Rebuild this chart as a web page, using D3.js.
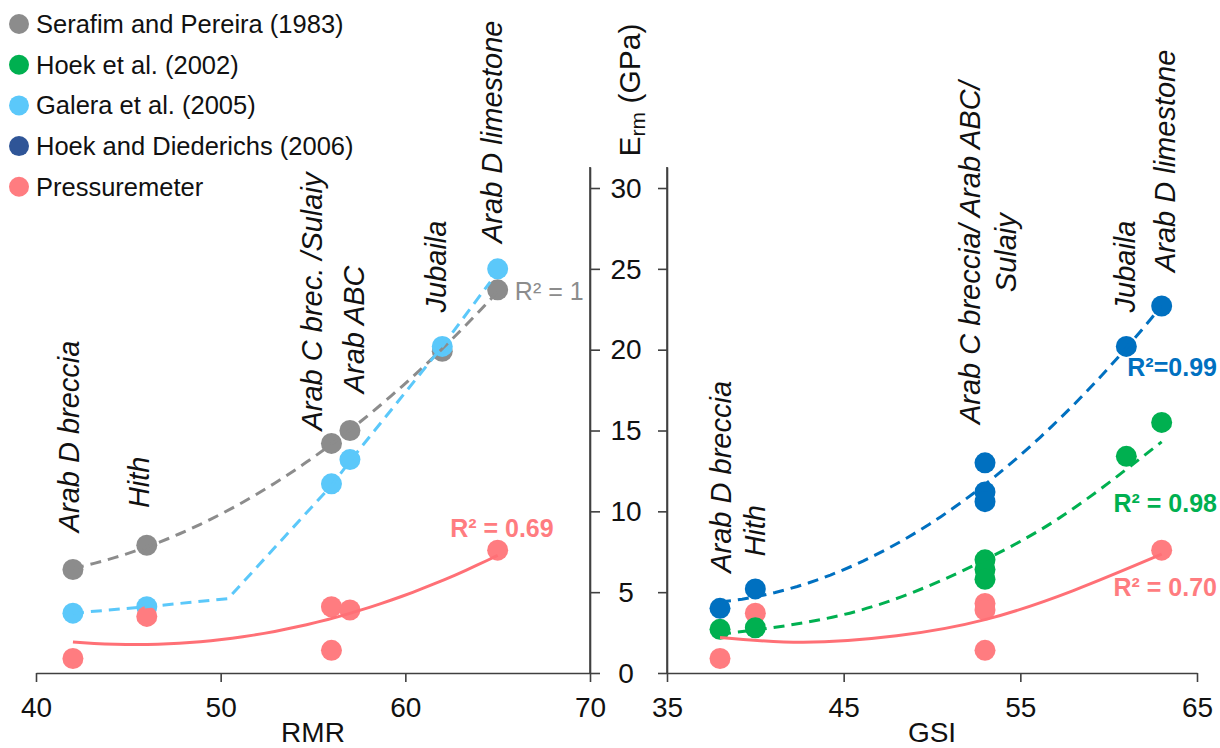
<!DOCTYPE html>
<html lang="en">
<head>
<meta charset="UTF-8">
<title>Erm vs RMR and GSI</title>
<script src="https://d3js.org/d3.v7.min.js"></script>
<style>
  body { margin: 0; background: #fff; }
  svg { font-family: "Liberation Sans", Arial, sans-serif; }
  .unit { font-size: 29px; font-style: italic; fill: #111; }
</style>
</head>
<body>
<svg id="chart" width="1220" height="748"></svg>
<script>
// ---- RMR panel data ----
const rmrX = [42, 46, 56, 57, 62, 65];
const serafimE = [6.4, 7.9, 14.2, 15.0, 19.9, 23.7];
const galeraE = [3.7, 4.1, 11.7, 13.2, 20.2, 25.0];
const pressRmrX = [42, 46, 56, 57, 56, 65];
const pressRmrE = [0.9, 3.5, 4.1, 3.9, 1.4, 7.6];
// Galera dashed line, vertices
const galeraLineX = [42, 46, 50.4, 56, 57, 62, 64.6];
const galeraLineE = [3.7, 4.1, 4.6, 11.6, 13.1, 20.2, 24.2];

// ---- GSI panel data ----
const gsiX = [38, 40, 53, 53, 53, 61, 63];
const hdE = [4.0, 5.2, 13.0, 11.2, 10.6, 20.2, 22.7];
const hoekE = [2.7, 2.8, 7.0, 6.4, 5.8, 13.4, 15.5];
const pressGsiX = [38, 40, 53, 53, 53, 63];
const pressGsiE = [0.9, 3.7, 4.3, 3.9, 1.4, 7.6];
// trend lines
const hoekTrendX = [38, 46, 53, 57.5, 61, 63];
const hoekTrendE = [2.4, 3.9, 7.0, 9.8, 12.6, 14.3];
const pressTrendX = [38, 42.7, 48, 53, 58, 63];
const pressTrendE = [2.2, 1.9, 2.3, 3.3, 5.1, 7.35];

// ---- ticks ----
const rmrTicks = [40, 50, 60, 70];
const gsiTicks = [35, 45, 55, 65];
const eTicks = [0, 5, 10, 15, 20, 25, 30];

// ---- legend ----
const legendNames = ["Serafim and Pereira (1983)", "Hoek et al. (2002)", "Galera et al. (2005)",
  "Hoek and Diederichs (2006)", "Pressuremeter"];
const legendColors = ["#8c8c8c", "#00b050", "#5bc8fa", "#2f5597", "#ff7c80"];

// ---- annotations (data units) ----
const rmrLabels = [
  { text: "Arab D breccia", x: 41.8, e: 8.7 },
  { text: "Hith", x: 45.55, e: 10.2 },
  { text: "Arab C brec. /Sulaiy", x: 54.94, e: 15.0 },
  { text: "Arab ABC", x: 57.22, e: 17.3 },
  { text: "Jubaila", x: 61.66, e: 22.3 },
  { text: "Arab D limestone", x: 64.69, e: 26.6 }
];
const gsiLabels = [
  { text: "Arab D breccia", x: 38.06, e: 6.2 },
  { text: "Hith", x: 39.98, e: 7.2 },
  { text: "Jubaila", x: 60.9, e: 22.3 },
  { text: "Arab D limestone", x: 63.18, e: 24.8 }
];

const gray = "#8c8c8c", lblue = "#5bc8fa", pink = "#ff7c80", green = "#00b050", blue = "#0070c0";

const svg = d3.select("#chart");
const xL = d3.scaleLinear().domain([40, 70]).range([36, 590]);
const xR = d3.scaleLinear().domain([35, 65]).range([667, 1197]);
const y = d3.scaleLinear().domain([0, 31.3]).range([673, 167]);

// least squares quadratic, like an Excel polynomial trendline
function quadFit(xs, ys) {
  const m = d3.mean(xs);
  const s = [0, 0, 0, 0, 0], t = [0, 0, 0];
  xs.forEach((x, i) => {
    const u = x - m;
    for (let k = 0; k < 5; k++) s[k] += u ** k;
    for (let k = 0; k < 3; k++) t[k] += ys[i] * u ** k;
  });
  const A = [[s[0], s[1], s[2]], [s[1], s[2], s[3]], [s[2], s[3], s[4]]];
  const det = M => M[0][0] * (M[1][1] * M[2][2] - M[1][2] * M[2][1])
    - M[0][1] * (M[1][0] * M[2][2] - M[1][2] * M[2][0])
    + M[0][2] * (M[1][0] * M[2][1] - M[1][1] * M[2][0]);
  const D = det(A);
  const c = [0, 1, 2].map(j => det(A.map((row, r) => row.map((v, k) => k === j ? t[r] : v))) / D);
  return x => c[0] + c[1] * (x - m) + c[2] * (x - m) ** 2;
}
function sampleFit(f, x0, x1) {
  return d3.range(41).map(i => { const x = x0 + (x1 - x0) * i / 40; return [x, f(x)]; });
}

// ---- axes ----
function styleAxis(g) {
  g.attr("color", "#404040");
  g.selectAll("path, line").attr("stroke-width", 1.6);
  g.selectAll("text").attr("font-size", 28).attr("font-family", "Liberation Sans, Arial, sans-serif").attr("fill", "#111");
}
svg.append("g").attr("transform", "translate(0,673)")
  .call(d3.axisBottom(xL).tickValues(rmrTicks).tickSize(9).tickSizeOuter(0).tickPadding(15))
  .call(styleAxis);
svg.append("g").attr("transform", "translate(0,673)")
  .call(d3.axisBottom(xR).tickValues(gsiTicks).tickSize(9).tickSizeOuter(0).tickPadding(15))
  .call(styleAxis);
svg.append("g").attr("transform", "translate(590,0)")
  .call(d3.axisRight(y).tickValues(eTicks).tickSize(10).tickSizeOuter(0).tickFormat(""))
  .call(styleAxis);
svg.append("g").attr("transform", "translate(667,0)")
  .call(d3.axisLeft(y).tickValues(eTicks).tickSize(9).tickSizeOuter(0).tickFormat(""))
  .call(styleAxis);
// extend the domain lines to the top
svg.append("line").attr("x1", 590).attr("x2", 590).attr("y1", y(0)).attr("y2", y.range()[1])
  .attr("stroke", "#404040").attr("stroke-width", 1.6);
svg.append("line").attr("x1", 667).attr("x2", 667).attr("y1", y(0)).attr("y2", y.range()[1])
  .attr("stroke", "#404040").attr("stroke-width", 1.6);

svg.selectAll(".ylab").data(eTicks).enter().append("text")
  .attr("x", 626).attr("y", d => y(d)).attr("dy", "0.35em")
  .attr("text-anchor", "middle").attr("font-size", 28).attr("fill", "#111")
  .text(d => d);

svg.append("text").attr("x", 313).attr("y", 742).attr("text-anchor", "middle")
  .attr("font-size", 28).attr("fill", "#111").text("RMR");
svg.append("text").attr("x", 932).attr("y", 742).attr("text-anchor", "middle")
  .attr("font-size", 28).attr("fill", "#111").text("GSI");

const yTitle = svg.append("text").attr("transform", "translate(629,90) rotate(-90)")
  .attr("dy", "0.35em").attr("text-anchor", "middle").attr("font-size", 30).attr("fill", "#111");
yTitle.append("tspan").text("E");
yTitle.append("tspan").attr("font-size", 21).attr("dy", 5).text("rm");
yTitle.append("tspan").attr("dy", -5).text(" (GPa)");

// ---- markers ----
function dots(xs, ys, xs_scale, color) {
  svg.append("g").selectAll("circle").data(xs.map((x, i) => [x, ys[i]])).enter().append("circle")
    .attr("cx", d => xs_scale(d[0])).attr("cy", d => y(d[1])).attr("r", 10.5).attr("fill", color);
}
dots(rmrX, serafimE, xL, gray);
dots(rmrX, galeraE, xL, lblue);
dots(pressRmrX, pressRmrE, xL, pink);
dots(pressGsiX, pressGsiE, xR, pink);
dots(gsiX, hoekE, xR, green);
dots(gsiX, hdE, xR, blue);

// ---- trend lines ----
function trend(pts, xs_scale, color, dashed, curve) {
  const line = d3.line().x(d => xs_scale(d[0])).y(d => y(d[1])).curve(curve || d3.curveLinear);
  svg.append("path").datum(pts).attr("d", line).attr("fill", "none")
    .attr("stroke", color).attr("stroke-width", 3)
    .attr("stroke-dasharray", dashed ? "11,7" : null);
}
trend(sampleFit(quadFit(rmrX, serafimE), 42, 65), xL, gray, true);
trend(galeraLineX.map((x, i) => [x, galeraLineE[i]]), xL, lblue, true);
trend(sampleFit(quadFit(pressRmrX, pressRmrE), 42, 65), xL, "#ff7076", false);
trend(sampleFit(quadFit(gsiX, hdE), 38, 63), xR, blue, true);
trend(hoekTrendX.map((x, i) => [x, hoekTrendE[i]]), xR, green, true, d3.curveNatural);
trend(pressTrendX.map((x, i) => [x, pressTrendE[i]]), xR, "#ff7076", false, d3.curveNatural);

// ---- R² labels ----
const r2 = [
  { text: "R² = 1", sx: xL, x: 65.93, e: 23.6, color: gray, bold: false, anchor: "start" },
  { text: "R² = 0.69", sx: xL, x: 65.23, e: 8.97, color: pink, bold: true, anchor: "middle" },
  { text: "R²=0.99", sx: xR, x: 66.13, e: 18.9, color: blue, bold: true, anchor: "end" },
  { text: "R² = 0.98", sx: xR, x: 66.13, e: 10.5, color: green, bold: true, anchor: "end" },
  { text: "R² = 0.70", sx: xR, x: 66.13, e: 5.3, color: pink, bold: true, anchor: "end" }
];
svg.selectAll(".r2").data(r2).enter().append("text")
  .attr("x", d => d.sx(d.x)).attr("y", d => y(d.e)).attr("dy", "0.35em")
  .attr("text-anchor", d => d.anchor).attr("font-size", 25)
  .attr("font-weight", d => d.bold ? "bold" : "normal").attr("fill", d => d.color)
  .text(d => d.text);

// ---- rotated unit labels ----
function unitLabels(list, sx) {
  svg.append("g").selectAll("text").data(list).enter().append("text")
    .attr("class", "unit")
    .attr("transform", d => `translate(${sx(d.x)},${y(d.e)}) rotate(-90)`)
    .attr("dy", "0.35em").text(d => d.text);
}
unitLabels(rmrLabels, xL);
unitLabels(gsiLabels, xR);
const two = svg.append("text").attr("class", "unit")
  .attr("transform", `translate(${xR(52.15)},${y(26.0)}) rotate(-90)`)
  .attr("text-anchor", "middle");
two.append("tspan").attr("x", 0).attr("dy", "0.35em").text("Arab C breccia/ Arab ABC/");
two.append("tspan").attr("x", 0).attr("dy", 36).text("Sulaiy");

// ---- legend ----
const leg = svg.append("g").selectAll("g").data(legendNames).enter().append("g")
  .attr("transform", (d, i) => `translate(19,${24 + i * 40.7})`);
leg.append("circle").attr("r", 10).attr("fill", (d, i) => legendColors[i]);
leg.append("text").attr("x", 17).attr("dy", "0.35em").attr("font-size", 25.5).attr("fill", "#111").text(d => d);
</script>
</body>
</html>
